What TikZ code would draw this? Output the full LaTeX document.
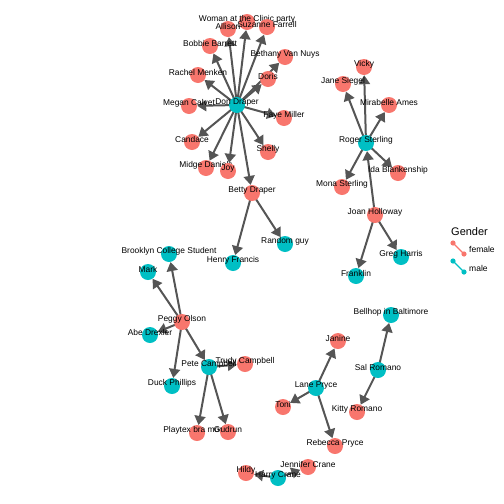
\documentclass[tikz,border=0pt]{standalone}
\usepackage{fontspec}
\setmainfont{Liberation Sans}
\usetikzlibrary{arrows.meta,backgrounds}
\definecolor{fem}{HTML}{F8766D}
\definecolor{mal}{HTML}{00BFC4}
\definecolor{edgec}{HTML}{555555}
\tikzset{
  fnode/.style={circle,fill=fem,minimum size=16pt,inner sep=0pt},
  mnode/.style={circle,fill=mal,minimum size=16pt,inner sep=0pt},
  lbl/.style={font=\fontsize{8.4}{10}\selectfont,inner sep=0pt,text=black},
  rel/.style={draw=edgec,line width=2pt,-{Triangle[length=9pt,width=11pt]}},
  legt/.style={font=\fontsize{8.5}{10}\selectfont,inner sep=0pt,anchor=west},
}
\newcommand{\nd}[4]{\node[#1] (#2) at (#3) {};\node[lbl] (#2-l) at ([yshift=2.5pt]#2.center) {#4};}
\begin{document}
\begin{tikzpicture}[x=1pt,y=-1pt]
\useasboundingbox (0,0) rectangle (504,504);
% Don Draper cluster
\nd{mnode}{don}{237,105}{Don Draper}
\nd{fnode}{woman}{247,22}{Woman at the Clinic party}
\nd{fnode}{allison}{228,29}{Allison}
\nd{fnode}{suzanne}{267,27}{Suzanne Farrell}
\nd{fnode}{bobbie}{210,46}{Bobbie Barrett}
\nd{fnode}{bethany}{285,57}{Bethany Van Nuys}
\nd{fnode}{rachel}{198,75}{Rachel Menken}
\nd{fnode}{doris}{268,79}{Doris}
\nd{fnode}{megan}{189,106}{Megan Calvet}
\nd{fnode}{faye}{284,118}{Faye Miller}
\nd{fnode}{candace}{192,142}{Candace}
\nd{fnode}{shelly}{268,152}{Shelly}
\nd{fnode}{midge}{206,168}{Midge Daniels}
\nd{fnode}{joy}{228,171}{Joy}
\nd{fnode}{betty}{252,193}{Betty Draper}
\nd{mnode}{random}{285,244}{Random guy}
\nd{mnode}{henry}{233,263}{Henry Francis}
% Roger Sterling cluster
\nd{fnode}{vicky}{364,67}{Vicky}
\nd{fnode}{jane}{343,84}{Jane Siegel}
\nd{fnode}{mirabelle}{389,105}{Mirabelle Ames}
\nd{mnode}{roger}{366,143}{Roger Sterling}
\nd{fnode}{ida}{398,173}{Ida Blankenship}
\nd{fnode}{mona}{342,187}{Mona Sterling}
\nd{fnode}{joan}{375,215}{Joan Holloway}
\nd{mnode}{greg}{401,257}{Greg Harris}
\nd{mnode}{franklin}{356,276}{Franklin}
% Peggy Olson cluster
\nd{mnode}{brooklyn}{169,254}{Brooklyn College Student}
\nd{mnode}{mark}{148,272}{Mark}
\nd{fnode}{peggy}{182,322}{Peggy Olson}
\nd{mnode}{abe}{150,335}{Abe Drexler}
\nd{mnode}{pete}{209,367}{Pete Campbell}
\nd{fnode}{trudy}{245,364}{Trudy Campbell}
\nd{mnode}{duck}{172,386}{Duck Phillips}
\nd{fnode}{playtex}{197,433}{Playtex bra model}
\nd{fnode}{gudrun}{228,432}{Gudrun}
% Lane / Sal cluster
\nd{mnode}{bellhop}{391,315}{Bellhop in Baltimore}
\nd{fnode}{janine}{338,341}{Janine}
\nd{mnode}{sal}{378,370}{Sal Romano}
\nd{mnode}{lane}{316,388}{Lane Pryce}
\nd{fnode}{toni}{283,407}{Toni}
\nd{fnode}{kitty}{357,412}{Kitty Romano}
\nd{fnode}{rebecca}{335,446}{Rebecca Pryce}
\nd{fnode}{jennifer}{308,467}{Jennifer Crane}
\nd{fnode}{hildy}{246,473}{Hildy}
\nd{mnode}{harry}{278,478}{Harry Crane}
% edges
\begin{scope}[on background layer]
\foreach \t in {woman,allison,suzanne,bobbie,bethany,rachel,doris,megan,faye,candace,shelly,midge,joy,betty}
  \draw[rel] (don.center) -- (\t);
\draw[rel] (betty.center) -- (random);
\draw[rel] (betty.center) -- (henry);
\foreach \t in {vicky,jane,mirabelle,ida,mona}
  \draw[rel] (roger.center) -- (\t);
\draw[rel] (joan.center) -- (roger);
\draw[rel] (joan.center) -- (greg);
\draw[rel] (joan.center) -- (franklin);
\foreach \t in {brooklyn,mark,abe,duck,pete}
  \draw[rel] (peggy.center) -- (\t);
\foreach \t in {trudy,playtex,gudrun}
  \draw[rel] (pete.center) -- (\t);
\draw[rel] (sal.center) -- (bellhop);
\draw[rel] (sal.center) -- (kitty);
\foreach \t in {janine,toni,rebecca}
  \draw[rel] (lane.center) -- (\t);
\draw[rel] (harry.center) -- (hildy);
\draw[rel] (harry.center) -- (jennifer);
\end{scope}
% legend
\node[inner sep=0pt,anchor=west,font=\fontsize{11}{13}\selectfont] (legtitle) at (451,232) {Gender};
\coordinate (f1) at (453,243); \coordinate (f2) at (464,254);
\coordinate (m1) at (453,261); \coordinate (m2) at (464,272);
\draw[fem,line width=1.4pt] (f1) -- (f2);
\fill[fem] (f1) circle (2.6pt) (f2) circle (2.6pt);
\draw[mal,line width=1.4pt] (m1) -- (m2);
\fill[mal] (m1) circle (2.6pt) (m2) circle (2.6pt);
\node[legt] (legf) at (469,249) {female};
\node[legt] (legm) at (469,268) {male};
\end{tikzpicture}
\end{document}
